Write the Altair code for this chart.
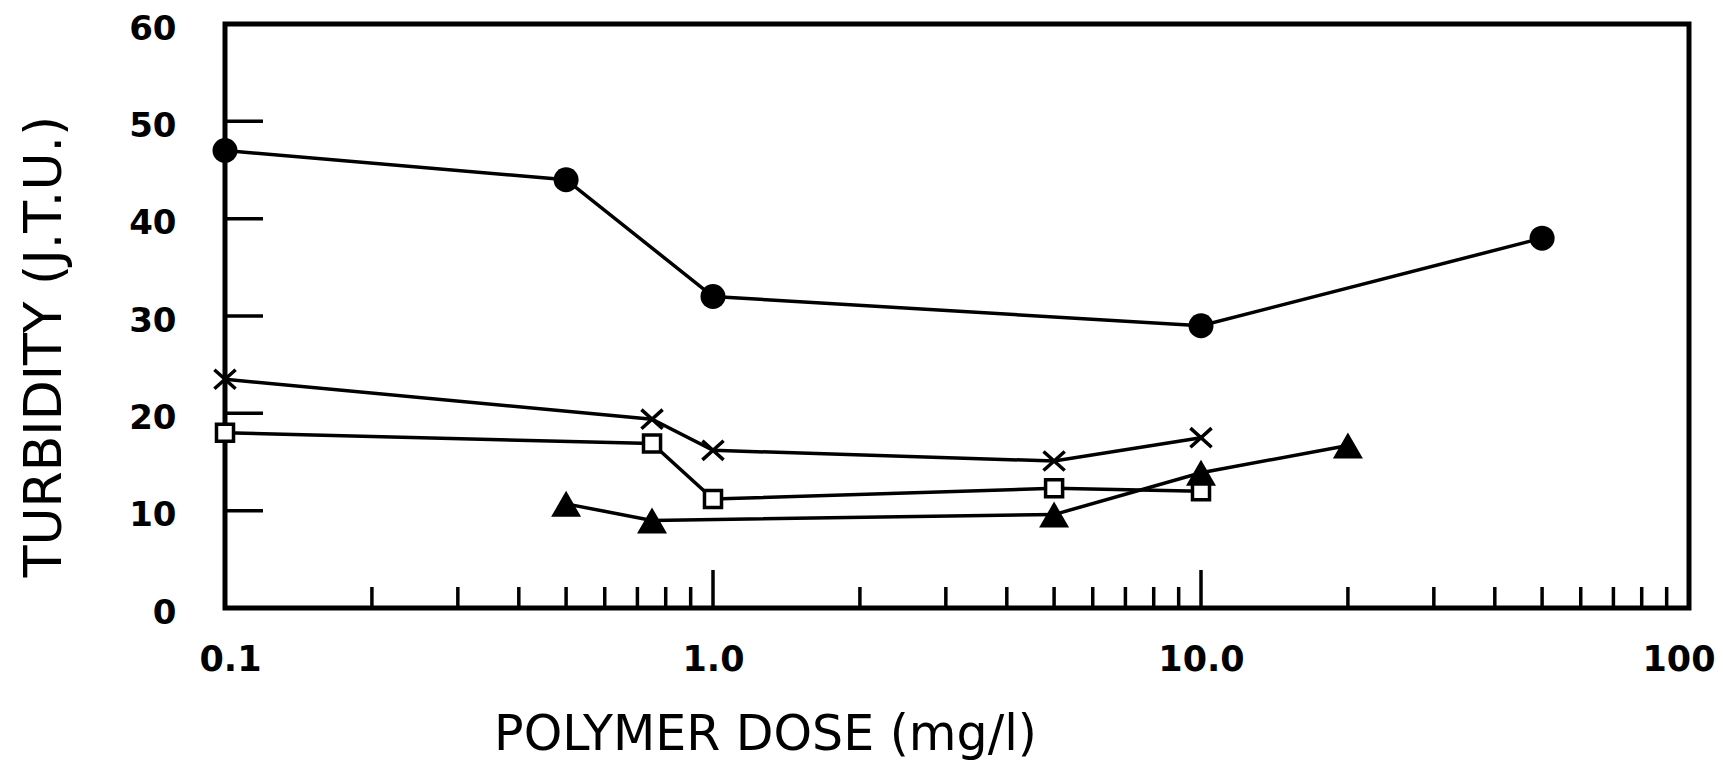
import altair as alt
import pandas as pd

# ---- data ----
circle_dose = [0.1, 0.5, 1.0, 10.0, 50.0]
circle_turb = [47.0, 44.0, 32.0, 29.0, 38.0]

cross_dose = [0.1, 0.75, 1.0, 5.0, 10.0]
cross_turb = [23.5, 19.4, 16.2, 15.1, 17.5]

square_dose = [0.1, 0.75, 1.0, 5.0, 10.0]
square_turb = [18.0, 16.9, 11.2, 12.3, 12.0]

tri_dose = [0.5, 0.75, 5.0, 10.0, 20.0]
tri_turb = [10.7, 9.0, 9.6, 13.9, 16.7]

x_label_values = [0.1, 1.0, 10.0, 100.0]
y_label_values = [0, 10, 20, 30, 40, 50, 60]
x_minor_ticks = [0.2, 0.3, 0.4, 0.5, 0.6, 0.7, 0.8, 0.9,
                 2, 3, 4, 5, 6, 7, 8, 9,
                 20, 30, 40, 50, 60, 70, 80, 90]
x_major_ticks = [1.0, 10.0]
y_ticks = [10, 20, 30, 40, 50]

W, H = 1464, 584
FONT = "DejaVu Sans"

xs = alt.Scale(type="log", domain=[0.1, 100], nice=False)
ys = alt.Scale(domain=[0, 60], nice=False, zero=False)

xaxis = alt.Axis(
    values=x_label_values,
    labelExpr="datum.value >= 100 ? '100' : format(datum.value, '.1f')",
    title="POLYMER DOSE (mg/l)",
    titleX=540, titleY=141, titleAnchor="start", titleAlign="center",
    titleBaseline="alphabetic",
    titleFont=FONT, titleFontSize=49, titleFontWeight="normal", titleColor="black",
    labelFont=FONT, labelFontSize=35, labelFontWeight="bold", labelColor="black",
    labelPadding=34, labelFlush=True, labelFlushOffset=26, labelOverlap=False,
    ticks=False, tickSize=0, domain=False, grid=False,
)
yaxis = alt.Axis(
    values=y_label_values,
    title="TURBIDITY (J.T.U.)",
    titleX=-181, titleY=322, titleAngle=270, titleAlign="center",
    titleBaseline="middle",
    titleFont=FONT, titleFontSize=52, titleFontWeight="normal", titleColor="black",
    labelFont=FONT, labelFontSize=34, labelFontWeight="bold", labelColor="black",
    labelPadding=49, labelOffset=5, labelFlush=False, labelOverlap=False,
    ticks=False, tickSize=0, domain=False, grid=False,
)


def X():
    return alt.X("dose:Q", scale=xs, axis=xaxis)


def Y():
    return alt.Y("turb:Q", scale=ys, axis=yaxis)


def df(d, t):
    return pd.DataFrame({"dose": d, "turb": t})


layers = []

# inward tick marks
layers.append(
    alt.Chart(pd.DataFrame({"dose": x_minor_ticks})).mark_rule(color="black", strokeWidth=3.5)
    .encode(x=X(), y=alt.value(H), y2=alt.value(H - 21))
)
layers.append(
    alt.Chart(pd.DataFrame({"dose": x_major_ticks})).mark_rule(color="black", strokeWidth=3.5)
    .encode(x=X(), y=alt.value(H), y2=alt.value(H - 38))
)
layers.append(
    alt.Chart(pd.DataFrame({"turb": y_ticks})).mark_rule(color="black", strokeWidth=3.5)
    .encode(y=Y(), x=alt.value(0), x2=alt.value(38))
)

# lines
for d, t in [(circle_dose, circle_turb), (cross_dose, cross_turb),
             (square_dose, square_turb), (tri_dose, tri_turb)]:
    layers.append(
        alt.Chart(df(d, t)).mark_line(color="black", strokeWidth=3.5)
        .encode(x=X(), y=Y(), order="dose:Q")
    )

# markers
layers.append(
    alt.Chart(df(circle_dose, circle_turb))
    .mark_point(shape="circle", filled=True, color="black", size=625, opacity=1)
    .encode(x=X(), y=Y())
)
layers.append(
    alt.Chart(df(cross_dose, cross_turb))
    .mark_point(shape="M-1,-0.9L1,0.9M-1,0.9L1,-0.9", filled=False,
                stroke="black", strokeWidth=3.5, size=450, opacity=1)
    .encode(x=X(), y=Y())
)
layers.append(
    alt.Chart(df(square_dose, square_turb))
    .mark_point(shape="square", filled=True, fill="white", stroke="black",
                strokeWidth=3.5, size=290, opacity=1, fillOpacity=1)
    .encode(x=X(), y=Y())
)
layers.append(
    alt.Chart(df(tri_dose, tri_turb))
    .mark_point(shape="triangle-up", filled=True, color="black", size=900, opacity=1)
    .encode(x=X(), y=Y())
)

chart = (
    alt.layer(*layers)
    .properties(
        width=W, height=H,
        autosize=alt.AutoSizeParams(type="none"),
        padding={"left": 217, "top": 16, "right": 26, "bottom": 153},
        background="white",
    )
    .configure_view(stroke="black", strokeWidth=5)
)

chart.save("out.html", embed_options={"renderer": "svg", "actions": False})
